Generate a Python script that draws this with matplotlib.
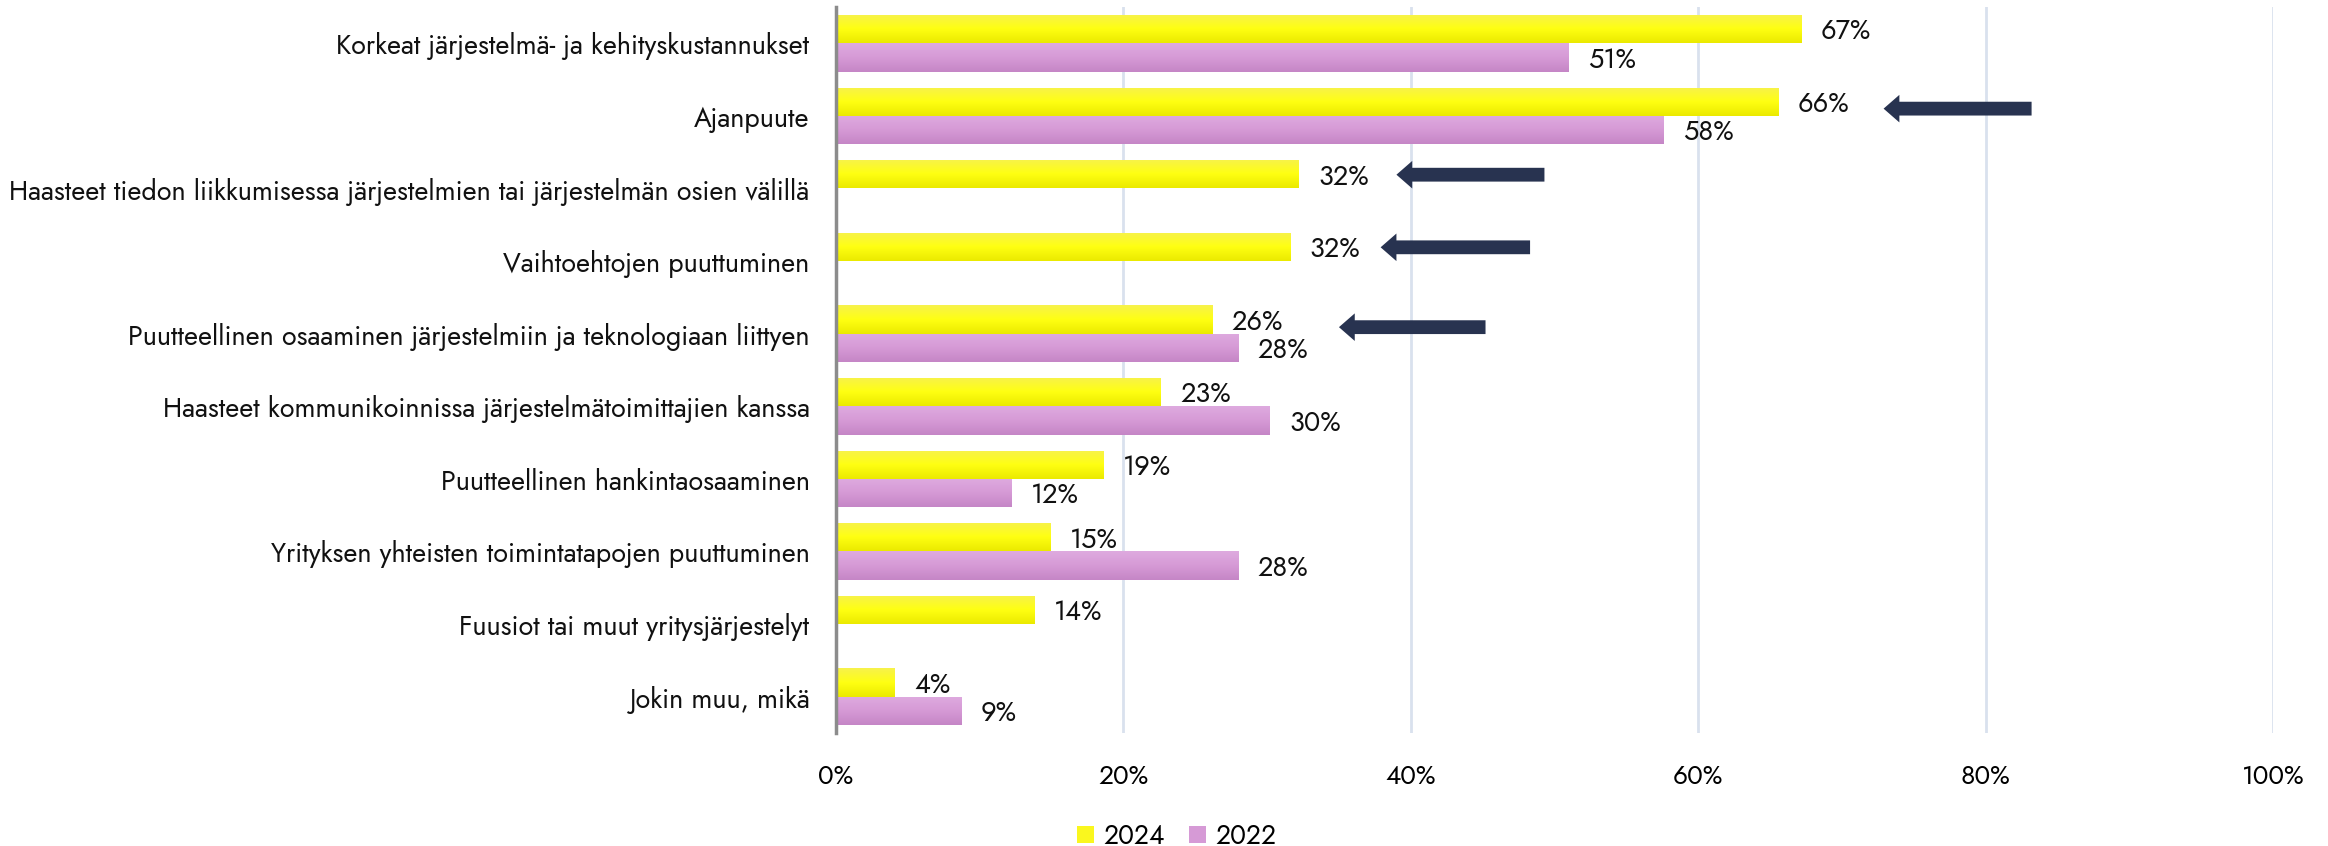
import matplotlib
matplotlib.use("Agg")
import matplotlib.pyplot as plt
import numpy as np
from matplotlib.patches import FancyArrow, Patch
from matplotlib import font_manager
from matplotlib.colors import LinearSegmentedColormap
from matplotlib.textpath import TextPath
from matplotlib.font_manager import FontProperties

categories = [
    "Korkeat järjestelmä- ja kehityskustannukset",
    "Ajanpuute",
    "Haasteet tiedon liikkumisessa järjestelmien tai järjestelmän osien välillä",
    "Vaihtoehtojen puuttuminen",
    "Puutteellinen osaaminen järjestelmiin ja teknologiaan liittyen",
    "Haasteet kommunikoinnissa järjestelmätoimittajien kanssa",
    "Puutteellinen hankintaosaaminen",
    "Yrityksen yhteisten toimintatapojen puuttuminen",
    "Fuusiot tai muut yritysjärjestelyt",
    "Jokin muu, mikä",
]
values_2024 = [67.2, 65.6, 32.2, 31.6, 26.2, 22.6, 18.6, 14.9, 13.8, 4.1]
values_2022 = [51.0, 57.6, None, None, 28.0, 30.2, 12.2, 28.0, None, 8.7]
series_names = ["2024", "2022"]
x_ticks = [0, 20, 40, 60, 80, 100]
x_tick_labels = ["0%", "20%", "40%", "60%", "80%", "100%"]

# arrows: (row index, tail x %, tip x %)
arrow_rows = [1, 2, 3, 4]
arrow_tail = [83.2, 49.3, 48.3, 45.2]
arrow_tip = [72.9, 39.0, 37.9, 35.0]
arrow_offset = [-0.1, -0.19, -0.19, -0.09]

avail = {f.name for f in font_manager.fontManager.ttflist}
FONT = "Jost" if "Jost" in avail else ("Lato" if "Lato" in avail else "DejaVu Sans")

W, H, DPI = 2328, 846, 100


def fit_size(text, target_px):
    # font size (pt) so that the text is target_px wide at DPI
    tp = TextPath((0, 0), text, prop=FontProperties(family=FONT, size=100))
    w_pt = tp.get_extents().width  # in points at size 100
    return 100 * (target_px * 72 / DPI) / w_pt


cat_size = fit_size(categories[2], 795)
val_size = fit_size("67%", 48)
tick_size = fit_size("20%", 49)
leg_size = fit_size("2024", 60)

fig = plt.figure(figsize=(W / DPI, H / DPI), dpi=DPI)
ax = fig.add_axes([836 / W, 1 - 733 / H, (2273 - 836) / W, (733 - 7) / H])

n = len(categories)
y = np.arange(n)
bh = 0.39

yellow_grad = ["#F7F24C", "#FFFF12", "#EBEA00"]
purple_grad = ["#DEAADF", "#D69AD6", "#C586C6"]
cm_y = LinearSegmentedColormap.from_list("yg", yellow_grad)
cm_p = LinearSegmentedColormap.from_list("pg", purple_grad)
grad = np.linspace(0, 1, 64).reshape(-1, 1)


def grad_bars(vals, offset, cmap, base):
    for i, v in enumerate(vals):
        if v is None:
            continue
        b = ax.barh(y[i] + offset, v, height=bh, color=base, zorder=2, linewidth=0)[0]
        yc = y[i] + offset
        im = ax.imshow(grad, extent=[0, v, yc + bh / 2, yc - bh / 2], cmap=cmap,
                       aspect="auto", zorder=3, interpolation="bilinear")
        im.set_clip_path(b)
        ax.text(v + 1.35, yc + 0.03, f"{int(v + 0.5)}%", va="center", ha="left",
                fontsize=val_size, family=FONT, color="#111111", zorder=4)


grad_bars(values_2024, -bh / 2, cm_y, "#FFFF12")
grad_bars(values_2022, bh / 2, cm_p, "#D69AD6")

for r, t0, t1, off in zip(arrow_rows, arrow_tail, arrow_tip, arrow_offset):
    hl = 1.1
    ax.add_patch(FancyArrow(t0, r + off, (t1 - t0), 0, width=0.19, head_width=0.38,
                            head_length=hl, length_includes_head=True,
                            color="#283350", linewidth=0, zorder=5))

ax.set_xlim(0, 100)
ax.set_ylim(n - 0.5, -0.5)
ax.set_xticks(x_ticks)
ax.set_xticklabels(x_tick_labels, family=FONT, fontsize=tick_size)
ax.set_yticks(y)
ax.set_yticklabels(categories, family=FONT, fontsize=cat_size, color="#111111")
ax.tick_params(axis="both", length=0)
ax.tick_params(axis="y", pad=19)
ax.tick_params(axis="x", pad=22)
ax.xaxis.grid(True, color="#D9E1EE", linewidth=2, zorder=0)
ax.set_axisbelow(True)
for s in ["top", "right", "bottom"]:
    ax.spines[s].set_visible(False)
ax.spines["left"].set_color("#8C8C8C")
ax.spines["left"].set_linewidth(2.5)
ax.spines["left"].set_zorder(6)

handles = [Patch(facecolor="#FAF71E", edgecolor="none"), Patch(facecolor="#D69AD6", edgecolor="none")]
fig.legend(handles, series_names, loc="center", bbox_to_anchor=(0.5055, 1 - 836 / H),
           ncol=2, frameon=False, prop={"family": FONT, "size": leg_size},
           handlelength=0.62, handleheight=0.62, handletextpad=0.35, columnspacing=0.95,
           borderpad=0.2)

fig.savefig("out.png", dpi=DPI)
